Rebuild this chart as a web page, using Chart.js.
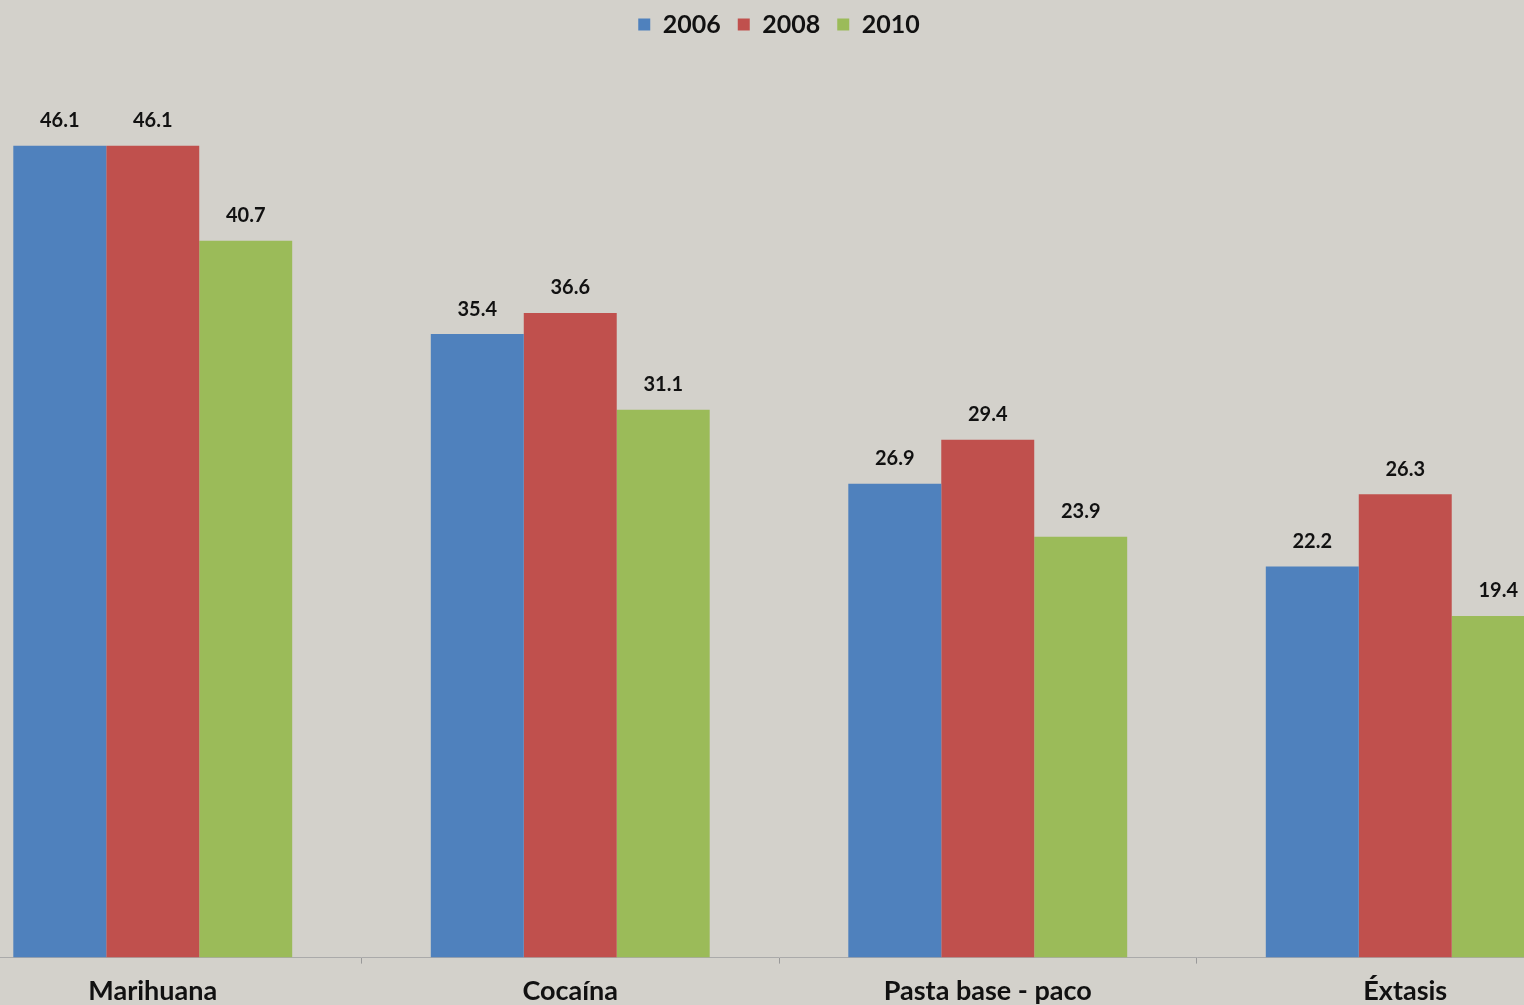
<!DOCTYPE html>
<html>
<head>
<meta charset="utf-8">
<script src="https://cdn.jsdelivr.net/npm/chart.js@4/dist/chart.umd.min.js"></script>
<style>
  html, body { margin:0; padding:0; width:1524px; height:1005px; overflow:hidden; background:#d3d1cb; }
  #wrap { position:absolute; left:-56px; top:-5px; width:1670px; height:1023px; }
</style>
</head>
<body>
<div id="wrap"><canvas id="c"></canvas></div>
<script>
const categories = ["Marihuana", "Cocaína", "Pasta base - paco", "Éxtasis"];
const seriesNames = ["2006", "2008", "2010"];
const values2006 = [46.1, 35.4, 26.9, 22.2];
const values2008 = [46.1, 36.6, 29.4, 26.3];
const values2010 = [40.7, 31.1, 23.9, 19.4];
const colors = ["#4f81bd", "#c0504d", "#9bbb59"];
const FONT = "Lato, 'Open Sans', sans-serif";

const labelPlugin = {
  id: 'barLabels',
  afterDatasetsDraw(chart) {
    const ctx = chart.ctx;
    ctx.save();
    ctx.font = "bold 20px " + FONT;
    ctx.fillStyle = "#111";
    ctx.textAlign = "center";
    ctx.textBaseline = "bottom";
    chart.data.datasets.forEach((ds, i) => {
      const meta = chart.getDatasetMeta(i);
      meta.data.forEach((bar, j) => {
        ctx.fillText(ds.data[j].toFixed(1), bar.x, bar.y - 15);
      });
    });
    ctx.restore();
  }
};

new Chart(document.getElementById('c'), {
  type: 'bar',
  data: {
    labels: categories,
    datasets: [
      { label: seriesNames[0], data: values2006, backgroundColor: colors[0] },
      { label: seriesNames[1], data: values2008, backgroundColor: colors[1] },
      { label: seriesNames[2], data: values2010, backgroundColor: colors[2] }
    ]
  },
  options: {
    responsive: true,
    maintainAspectRatio: false,
    animation: false,
    layout: { padding: 0 },
    datasets: { bar: { categoryPercentage: 0.668, barPercentage: 1.0 } },
    plugins: {
      legend: {
        position: 'top',
        labels: {
          boxWidth: 12, boxHeight: 12, padding: 17,
          color: "#111",
          font: { family: FONT, size: 25, weight: 'bold' }
        }
      },
      tooltip: { enabled: false }
    },
    scales: {
      x: {
        grid: { display: true, drawOnChartArea: false, offset: true, tickLength: 6, color: "#999" },
        border: { display: true, color: "#aaa", dash: [2, 2] },
        ticks: { color: "#111", padding: 11, font: { family: FONT, size: 27, weight: 'bold', lineHeight: 1.2 } }
      },
      y: {
        display: false,
        min: 0,
        max: 51.7
      }
    }
  },
  plugins: [labelPlugin]
});
</script>
</body>
</html>
